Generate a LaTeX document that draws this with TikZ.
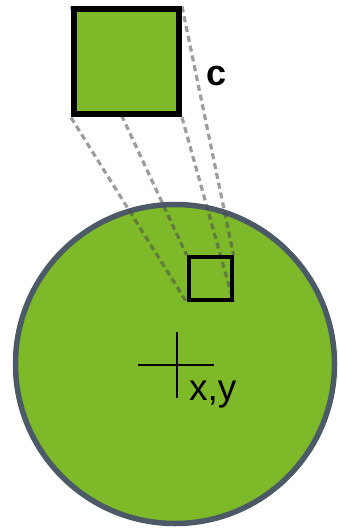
\documentclass[tikz,border=0pt]{standalone}
\usepackage{fontspec}
\setmainfont{Liberation Sans}
\usetikzlibrary{positioning,backgrounds}
\definecolor{leafgreen}{RGB}{125,185,40}
\definecolor{rimgray}{RGB}{75,90,102}

\begin{document}
\begin{tikzpicture}[
    x=1pt,y=-1pt,
    font=\fontsize{37}{40}\selectfont,
    disk/.style={draw=rimgray,fill=leafgreen,circle,line width=5.5pt,
                 minimum size=319pt,inner sep=0pt},
    cell/.style={draw=black,fill=leafgreen,rectangle,line width=6pt,
                 minimum size=105pt,inner sep=0pt},
    patch/.style={draw=black,rectangle,line width=4pt,minimum size=43pt,inner sep=0pt},
    proj/.style={draw=black!70,line width=3.2pt,dash pattern=on 6pt off 4pt,opacity=0.55}
]
  \useasboundingbox (0,0) rectangle (339,529);

  \node[cell] (cell) at (126.5,62) {};
  \node[anchor=base west,inner sep=0pt,font=\fontsize{36}{40}\selectfont\bfseries]
       (clabel) at (206,86) {c};
  \node[patch] (patch) at (210,278.5) {};

  % position marker
  \coordinate (xy) at (177,365);
  \draw[line width=2.3pt] ([xshift=-39pt]xy) -- ([xshift=37pt]xy);
  \draw[line width=2.3pt] ([yshift=33pt]xy) -- ([yshift=-33pt]xy);
  \node[anchor=base west,inner sep=0pt] (xylabel) at (189,400) {x,y};

  \begin{scope}[on background layer]
    \node[disk] (disk) at (175,364) {};
    \draw[proj] (cell.north west) -- (patch.north west);
    \draw[proj] (cell.north east) -- (patch.north east);
    \draw[proj] (cell.south west) -- (patch.south west);
    \draw[proj] (cell.south east) -- (patch.south east);
  \end{scope}
\end{tikzpicture}
\end{document}
